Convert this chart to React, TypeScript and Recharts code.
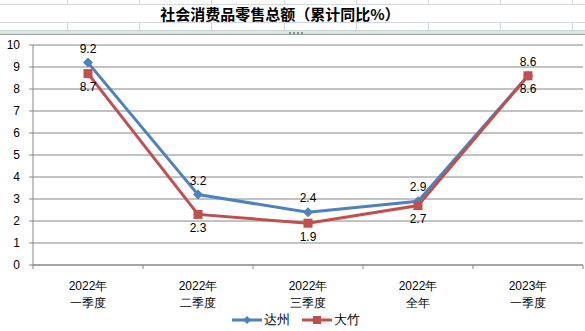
import React from 'react';
import { LineChart, Line, XAxis, YAxis, CartesianGrid, Legend, LabelList } from 'recharts';

// 类目（两行标签）
const years = ['2022年', '2022年', '2022年', '2022年', '2023年'];
const periods = ['一季度', '二季度', '三季度', '全年', '一季度'];
// 累计同比 %
const dazhou = [9.2, 3.2, 2.4, 2.9, 8.6];
const dazhu = [8.7, 2.3, 1.9, 2.7, 8.6];
const yTicks = [0, 1, 2, 3, 4, 5, 6, 7, 8, 9, 10];

const BLUE = '#4F81BD';
const RED = '#C0504D';
const GRID = '#868686';
const FONT = '"Liberation Sans", Arial, sans-serif';

const data = years.map((y, i) => ({
  name: y + '|' + periods[i],
  dazhou: dazhou[i],
  dazhu: dazhu[i],
}));

const Diamond = (props: any) => {
  const { cx, cy } = props;
  if (cx == null || cy == null) return null;
  const r = 5;
  return <polygon points={`${cx},${cy - r} ${cx + r},${cy} ${cx},${cy + r} ${cx - r},${cy}`} fill={BLUE} />;
};

const Square = (props: any) => {
  const { cx, cy } = props;
  if (cx == null || cy == null) return null;
  return <rect x={cx - 4.5} y={cy - 4.5} width={9} height={9} fill={RED} />;
};

const XTick = (props: any) => {
  const { x, y, payload, index } = props;
  const half = payload && payload.offset ? payload.offset : 55;
  const [a, b] = String(payload.value).split('|');
  return (
    <g>
      <line x1={x - half} y1={y} x2={x - half} y2={y + 4} stroke={GRID} />
      {index === years.length - 1 && <line x1={x + half} y1={y} x2={x + half} y2={y + 4} stroke={GRID} />}
      <text x={x} y={y + 25} textAnchor="middle" fontSize={12} fill="#000" fontFamily={FONT}>{a}</text>
      <text x={x} y={y + 42} textAnchor="middle" fontSize={12} fill="#000" fontFamily={FONT}>{b}</text>
    </g>
  );
};

const LegendBox = () => (
  <div style={{ display: 'flex', justifyContent: 'center', alignItems: 'center', fontSize: 13, fontFamily: FONT, color: '#000', paddingLeft: 8 }}>
    <svg width={30} height={10} style={{ marginRight: 2 }}>
      <line x1={0} y1={5} x2={30} y2={5} stroke={BLUE} strokeWidth={3} />
      <polygon points="15,1 19,5 15,9 11,5" fill={BLUE} />
    </svg>
    <span style={{ marginRight: 12 }}>达州</span>
    <svg width={30} height={10} style={{ marginRight: 2 }}>
      <line x1={0} y1={5} x2={30} y2={5} stroke={RED} strokeWidth={3} />
      <rect x={11} y={1} width={8} height={8} fill={RED} />
    </svg>
    <span>大竹</span>
  </div>
);

const sheetCols = [67, 139, 211, 284, 356, 428, 500, 572];

export default function App() {
  return (
    <div style={{ position: 'absolute', left: 0, top: 0, width: 585, height: 331, background: '#fff', overflow: 'hidden' }}>
      {/* 表格背景 */}
      <div style={{ position: 'absolute', left: 0, top: 4, width: 585, height: 1, background: '#d0d7e5' }} />
      <div style={{ position: 'absolute', left: 0, top: 22, width: 585, height: 1, background: '#d0d7e5' }} />
      {sheetCols.map((x) => (
        <React.Fragment key={x}>
          <div style={{ position: 'absolute', left: x, top: 0, width: 1, height: 4, background: '#d0d7e5' }} />
          <div style={{ position: 'absolute', left: x, top: 22, width: 1, height: 9, background: '#d0d7e5' }} />
        </React.Fragment>
      ))}
      <div style={{ position: 'absolute', left: 0, top: 30, width: 585, height: 3, background: '#dce6e3', borderTop: '1px solid #c9d5d1' }} />
      <div style={{ position: 'absolute', left: 0, top: 34, width: 585, height: 1, background: '#9a9a9a' }} />
      {[289, 293, 297, 301].map((x) => (
        <div key={x} style={{ position: 'absolute', left: x, top: 32, width: 2, height: 2, background: '#8a8a8a' }} />
      ))}
      <div style={{ position: 'absolute', left: 0, top: 5, width: 560, height: 17, textAlign: 'center', fontSize: 15, fontWeight: 'bold', lineHeight: '17px', fontFamily: '"Noto Sans CJK SC", sans-serif', color: '#000' }}>
        社会消费品零售总额（累计同比%）
      </div>
      <div style={{ position: 'absolute', left: 0, top: 38 }}>
        <LineChart width={585} height={293} data={data} margin={{ top: 7, right: 2, left: 0, bottom: 0 }}>
          <CartesianGrid vertical={false} stroke={GRID} />
          <XAxis dataKey="name" scale="band" stroke={GRID} tickLine={false} tickSize={0} tickMargin={0} height={46} interval={0} tick={<XTick />} />
          <YAxis
            domain={[0, 10]}
            ticks={yTicks}
            interval={0}
            width={33}
            stroke={GRID}
            tickSize={4}
            tickMargin={9}
            tick={{ fill: '#000', fontSize: 12, fontFamily: FONT }}
          />
          <Legend verticalAlign="bottom" height={20} content={<LegendBox />} />
          <Line dataKey="dazhou" stroke={BLUE} strokeWidth={3} dot={<Diamond />} activeDot={false} isAnimationActive={false}>
            <LabelList dataKey="dazhou" position="top" offset={10} fill="#000" fontSize={12} fontFamily={FONT} />
          </Line>
          <Line dataKey="dazhu" stroke={RED} strokeWidth={3} dot={<Square />} activeDot={false} isAnimationActive={false}>
            <LabelList dataKey="dazhu" position="bottom" offset={9} fill="#000" fontSize={12} fontFamily={FONT} />
          </Line>
        </LineChart>
      </div>
    </div>
  );
}
